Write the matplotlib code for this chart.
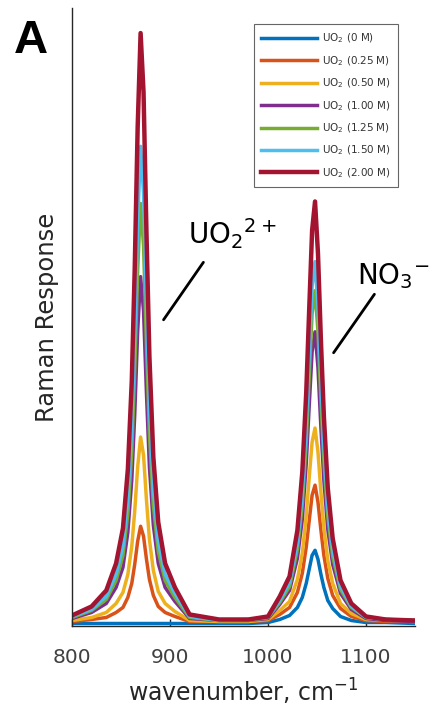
import matplotlib
matplotlib.use("Agg")
import matplotlib.pyplot as plt

wavenumber = [800, 820, 835, 845, 852, 857, 861, 864, 867, 870, 873, 876, 879, 883, 888,
              895, 905, 920, 950, 980, 1000, 1012, 1022, 1030, 1035, 1039, 1042, 1045, 1048,
              1051, 1054, 1057, 1061, 1066, 1074, 1085, 1100, 1120, 1150]

uo2_0_00 = [1, 1, 1, 1, 1, 1, 1, 1, 1, 1, 1, 1, 1, 1, 1, 1, 1, 1, 1, 1, 2, 5, 9, 17, 27, 41,
            55, 69, 74, 65, 50, 37, 24, 16, 8, 4, 2, 2, 1]
uo2_0_25 = [3, 5, 7, 12, 17, 27, 41, 60, 83, 98, 88, 65, 45, 29, 18, 12, 8, 3, 3, 3, 4, 10,
            17, 32, 51, 77, 103, 129, 139, 122, 94, 69, 46, 29, 16, 8, 4, 3, 3]
uo2_0_50 = [4, 7, 12, 21, 32, 50, 78, 113, 157, 187, 169, 124, 85, 54, 33, 21, 13, 4, 3, 3,
            5, 14, 23, 45, 71, 108, 146, 182, 196, 172, 132, 97, 64, 41, 21, 11, 5, 4, 3]
uo2_1_00 = [6, 12, 21, 37, 57, 92, 144, 209, 292, 347, 313, 230, 157, 99, 61, 37, 23, 6, 4,
            4, 6, 20, 34, 66, 105, 160, 217, 272, 292, 256, 196, 144, 95, 60, 31, 15, 6, 4, 3]
uo2_1_25 = [7, 14, 25, 44, 69, 111, 173, 253, 353, 420, 378, 278, 190, 119, 73, 44, 27, 7,
            4, 4, 7, 22, 38, 75, 120, 182, 247, 310, 333, 292, 224, 164, 108, 68, 35, 17, 7,
            5, 4]
uo2_1_50 = [8, 15, 28, 50, 78, 126, 197, 287, 401, 477, 430, 316, 216, 135, 83, 50, 31, 8,
            4, 5, 7, 24, 42, 81, 130, 198, 268, 337, 362, 317, 243, 178, 117, 74, 38, 18, 7,
            5, 4]
uo2_2_00 = [9, 18, 34, 61, 96, 155, 243, 355, 496, 590, 531, 390, 267, 167, 102, 61, 37, 10,
            5, 5, 8, 28, 48, 94, 152, 231, 313, 393, 422, 370, 283, 208, 136, 86, 44, 21, 8,
            5, 4]

series = [uo2_0_00, uo2_0_25, uo2_0_50, uo2_1_00, uo2_1_25, uo2_1_50, uo2_2_00]
labels = ["UO$_2$ (0 M)", "UO$_2$ (0.25 M)", "UO$_2$ (0.50 M)", "UO$_2$ (1.00 M)",
          "UO$_2$ (1.25 M)", "UO$_2$ (1.50 M)", "UO$_2$ (2.00 M)"]
colors = ["#0072BD", "#D95319", "#EDB120", "#7E2F8E", "#77AC30", "#4DBEEE", "#A2142F"]
xticks = [800, 900, 1000, 1100]

fig = plt.figure(figsize=(4.31, 7.15), dpi=100)
ax = fig.add_axes([72 / 431, 89 / 715, 343 / 431, 618 / 715])

for y, lab, c in zip(series, labels, colors):
    lw = 3.2 if c == "#A2142F" else 2.5
    ax.plot(wavenumber, y, color=c, lw=lw, label=lab, solid_joinstyle="round")

ax.set_xlim(800, 1150)
ax.set_ylim(-1.5, 615)
ax.set_xticks(xticks)
ax.set_yticks([])
ax.tick_params(axis="x", direction="in", length=5, width=1, labelsize=14.5,
               labelcolor="#404040", color="#262626", pad=16)
for s in ["top", "right"]:
    ax.spines[s].set_visible(False)
for s in ["left", "bottom"]:
    ax.spines[s].set_color("#262626")
    ax.spines[s].set_linewidth(1.0)

ax.set_xlabel("wavenumber, cm$^{-1}$", fontsize=17, color="#262626", labelpad=7)
ax.set_ylabel("Raman Response", fontsize=17.5, color="#262626", labelpad=9)

leg = ax.legend(loc="upper right", bbox_to_anchor=(0.95, 0.974), borderaxespad=0,
                fontsize=7.5, handlelength=5.3, handletextpad=0.5, labelspacing=0.85,
                frameon=True, fancybox=False, borderpad=0.72)
leg.get_frame().set_edgecolor("#404040")
leg.get_frame().set_linewidth(0.8)
for t in leg.get_texts():
    t.set_color("#333333")

fig.text(14 / 431, 1 - 53 / 715, "A", fontsize=34, fontweight="bold",
         family="Liberation Sans", color="black", va="baseline")

ax.text(918, 379, "UO$_2$$^{2+}$", fontsize=20, color="black")
ax.text(1091, 339, "NO$_3$$^{-}$", fontsize=20, color="black")
ax.annotate("", xy=(891.8, 301.7), xytext=(935.7, 363.6),
            arrowprops=dict(arrowstyle="-", lw=2.0, color="black"))
ax.annotate("", xy=(1065.3, 268.8), xytext=(1110.2, 331.7),
            arrowprops=dict(arrowstyle="-", lw=2.0, color="black"), annotation_clip=False)

fig.savefig("out.png", dpi=100)
